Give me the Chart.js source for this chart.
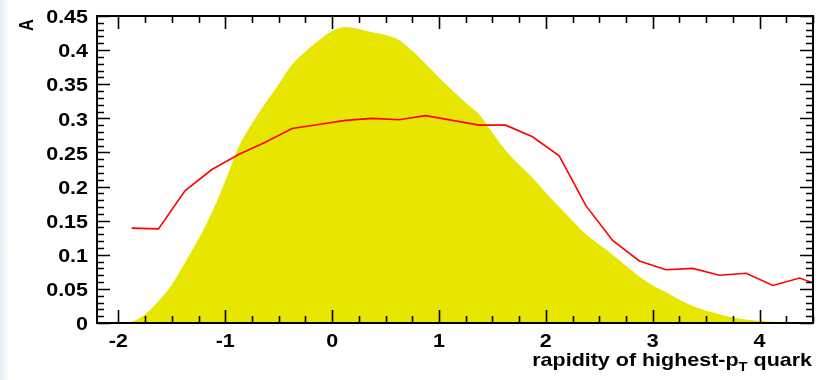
<!DOCTYPE html>
<html>
<head>
<meta charset="utf-8">
<title>rapidity of highest-pT quark</title>
<script src="https://cdn.jsdelivr.net/npm/chart.js@4.4.1/dist/chart.umd.min.js"></script>
<style>
  html, body { margin: 0; padding: 0; }
  body {
    width: 822px; height: 380px; overflow: hidden;
    background: linear-gradient(to right, #e2eff2 0px, #f3f9fa 5px, #ffffff 9px);
  }
  #wrap { position: relative; width: 822px; height: 380px; }
  canvas { display: block; }
</style>
</head>
<body>
<div id="wrap"><canvas id="grafico" width="822" height="380"></canvas></div>
<script>
// distribuição suave (área amarela)
const rapidezSuave = [
  -2.0, -1.875, -1.75, -1.625, -1.5, -1.375, -1.25, -1.125, -1.0, -0.875,
  -0.75, -0.625, -0.5, -0.375, -0.25, -0.125, 0.0, 0.125, 0.25, 0.375,
  0.5, 0.625, 0.75, 0.875, 1.0, 1.125, 1.25, 1.375, 1.5, 1.625,
  1.75, 1.875, 2.0, 2.125, 2.25, 2.375, 2.5, 2.625, 2.75, 2.875,
  3.0, 3.125, 3.25, 3.375, 3.5, 3.625, 3.75, 3.875, 4.0, 4.25, 4.5,
];
const valoresSuave = [
  0.0, 0.002, 0.013, 0.032, 0.056, 0.089, 0.123, 0.162, 0.208, 0.258,
  0.292, 0.322, 0.350, 0.379, 0.398, 0.414, 0.428, 0.434, 0.431, 0.426,
  0.422, 0.415, 0.399, 0.380, 0.360, 0.341, 0.323, 0.306, 0.279, 0.253,
  0.232, 0.213, 0.191, 0.170, 0.150, 0.130, 0.115, 0.100, 0.084, 0.068,
  0.055, 0.045, 0.034, 0.025, 0.018, 0.013, 0.008, 0.005, 0.003, 0.0015, 0.0005,
];

// assimetria por bin (linha vermelha, centros de bin de largura 0.25)
const centrosBins = [
  -1.875, -1.625, -1.375, -1.125, -0.875, -0.625, -0.375, -0.125, 0.125, 0.375,
  0.625, 0.875, 1.125, 1.375, 1.625, 1.875, 2.125, 2.375, 2.625, 2.875,
  3.125, 3.375, 3.625, 3.875, 4.125, 4.375, 4.625,
];
const valoresA = [
  0.139, 0.138, 0.194, 0.225, 0.247, 0.265, 0.285, 0.291, 0.297, 0.300,
  0.298, 0.304, 0.297, 0.290, 0.290, 0.273, 0.245, 0.172, 0.121, 0.091,
  0.078, 0.080, 0.070, 0.073, 0.055, 0.066, 0.052,
];

const ticksX = [-2, -1, 0, 1, 2, 3, 4];
const rotulosY = ['0', '0.05', '0.1', '0.15', '0.2', '0.25', '0.3', '0.35', '0.4', '0.45'];

const fonte = 'bold 19px "Liberation Sans", Arial, sans-serif';
const fonteSub = 'bold 13px "Liberation Sans", Arial, sans-serif';
const ESTICA = 1.13; // as letras do ROOT saem mais largas

// texto esticado na horizontal; align: 'left' | 'center' | 'right'
function texto(ctx, str, x, y, align) {
  const w = ctx.measureText(str).width * ESTICA;
  const x0 = align === 'right' ? x - w : align === 'center' ? x - w / 2 : x;
  ctx.save();
  ctx.translate(x0, y);
  ctx.scale(ESTICA, 1);
  ctx.textAlign = 'left';
  ctx.fillText(str, 0, 0);
  ctx.restore();
  return w;
}

// moldura, ticks internos e textos no estilo ROOT
const eixosRoot = {
  id: 'eixosRoot',
  afterDatasetsDraw(chart) {
    const { ctx, chartArea: a, scales: { x, y } } = chart;
    ctx.save();
    ctx.strokeStyle = '#000';
    ctx.lineWidth = 2;
    ctx.strokeRect(a.left, a.top, a.right - a.left, a.bottom - a.top);

    ctx.lineWidth = 1.6;
    ctx.beginPath();
    // ticks horizontais: a cada 0.25, maiores nos inteiros
    for (let i = -8; i <= 18; i++) {
      const v = i * 0.25;
      if (v < x.min || v > x.max) continue;
      const px = Math.round(x.getPixelForValue(v)) + 0.5;
      const len = (i % 4 === 0) ? 13 : 7;
      ctx.moveTo(px, a.bottom); ctx.lineTo(px, a.bottom - len);
      ctx.moveTo(px, a.top); ctx.lineTo(px, a.top + len);
    }
    // ticks verticais: a cada 0.01, maiores a cada 0.05
    for (let i = 0; i <= 45; i++) {
      const py = Math.round(y.getPixelForValue(i * 0.01)) + 0.5;
      const len = (i % 5 === 0) ? 13 : 7;
      ctx.moveTo(a.left, py); ctx.lineTo(a.left + len, py);
      ctx.moveTo(a.right, py); ctx.lineTo(a.right - len, py);
    }
    ctx.stroke();

    ctx.fillStyle = '#000';
    ctx.font = fonte;
    ctx.textBaseline = 'middle';
    rotulosY.forEach((txt) => {
      texto(ctx, txt, a.left - 9, y.getPixelForValue(parseFloat(txt)) + 2, 'right');
    });
    ticksX.forEach((v) => {
      texto(ctx, String(v), x.getPixelForValue(v), a.bottom + 19, 'center');
    });

    // título do eixo x com subscrito
    ctx.textBaseline = 'alphabetic';
    const p1 = 'rapidity of highest-p', sub = 'T', p2 = ' quark';
    ctx.font = fonte;
    const w1 = ctx.measureText(p1).width * ESTICA;
    const w3 = ctx.measureText(p2).width * ESTICA;
    ctx.font = fonteSub;
    const w2 = ctx.measureText(sub).width * ESTICA;
    const xt = a.right - 1 - (w1 + w2 + w3);
    const base = 366;
    ctx.font = fonte;
    texto(ctx, p1, xt, base, 'left');
    ctx.font = fonteSub;
    texto(ctx, sub, xt + w1, base + 5, 'left');
    ctx.font = fonte;
    texto(ctx, p2, xt + w1 + w2, base, 'left');

    // título do eixo y (girado)
    ctx.font = 'bold 21px "Liberation Sans", Arial, sans-serif';
    ctx.translate(33, 25);
    ctx.rotate(-Math.PI / 2);
    ctx.scale(0.78, 1);
    ctx.textAlign = 'center';
    ctx.fillText('A', 0, 0);
    ctx.restore();
  },
};

new Chart(document.getElementById('grafico'), {
  type: 'scatter',
  data: {
    datasets: [
      {
        label: 'distribuição',
        data: rapidezSuave.map((v, i) => ({ x: v, y: valoresSuave[i] })),
        showLine: true,
        fill: 'origin',
        backgroundColor: '#e8e600',
        borderWidth: 0,
        pointRadius: 0,
        cubicInterpolationMode: 'monotone',
        order: 2,
      },
      {
        label: 'A',
        data: centrosBins.map((v, i) => ({ x: v, y: valoresA[i] })),
        showLine: true,
        fill: false,
        borderColor: '#ff0000',
        borderWidth: 1.6,
        pointRadius: 0,
        tension: 0,
        order: 1,
      },
    ],
  },
  options: {
    responsive: false,
    animation: false,
    devicePixelRatio: 1,
    layout: { padding: { left: 97, right: 9, top: 16, bottom: 57 } },
    plugins: { legend: { display: false }, tooltip: { enabled: false } },
    scales: {
      x: { type: 'linear', min: -2.2, max: 4.5, display: false },
      y: { type: 'linear', min: 0, max: 0.45, display: false },
    },
  },
  plugins: [eixosRoot],
});
</script>
</body>
</html>
